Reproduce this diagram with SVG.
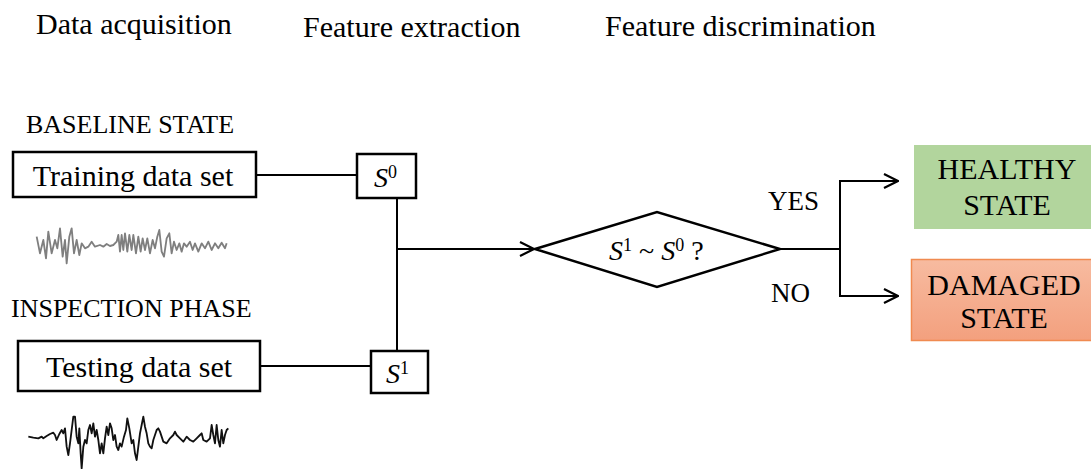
<svg xmlns="http://www.w3.org/2000/svg" width="1091" height="469" viewBox="0 0 1091 469">
  <style>
    text { font-family: "Liberation Serif", "Times New Roman", serif; fill: #000; }
    .title { font-size: 30px; }
    .phase { font-size: 26px; }
    .lbl { font-size: 30px; }
    .yn { font-size: 27px; }
    .sym { font-size: 28px; }
    .box { fill: #fff; stroke: #000; stroke-width: 2.5; }
    .wire { fill: none; stroke: #000; stroke-width: 2; }
    .wave { fill: none; stroke-width: 5.5; stroke-linejoin: round; }
  </style>
  <defs>
    <marker id="arrow" viewBox="0 0 16 16" refX="15" refY="8" markerWidth="16" markerHeight="16" markerUnits="userSpaceOnUse" orient="auto">
      <path d="M1,1 L15,8 L1,15" fill="none" stroke="#000" stroke-width="2.2"/>
    </marker>
    <linearGradient id="dmg" x1="0" y1="0" x2="0" y2="1">
      <stop offset="0" stop-color="#F7BBA0"/>
      <stop offset="1" stop-color="#F3A07E"/>
    </linearGradient>
  </defs>

  <!-- column headings -->
  <text class="title" x="36" y="34">Data acquisition</text>
  <text class="title" x="303" y="37">Feature extraction</text>
  <text class="title" x="605" y="36">Feature discrimination</text>

  <!-- connectors -->
  <g id="connectors">
    <line class="wire" x1="256" y1="175" x2="357" y2="175"/>
    <line class="wire" x1="260" y1="366" x2="371" y2="366"/>
    <line class="wire" x1="397" y1="198" x2="397" y2="351"/>
    <line class="wire" x1="397" y1="249" x2="534" y2="249" marker-end="url(#arrow)"/>
    <line class="wire" x1="780" y1="249" x2="840" y2="249" stroke-width="3"/>
    <polyline class="wire" points="898,181 840,181 840,296 898,296"/>
    <line class="wire" x1="840" y1="181" x2="898" y2="181" marker-end="url(#arrow)"/>
    <line class="wire" x1="840" y1="296" x2="898" y2="296" marker-end="url(#arrow)"/>
    <text class="yn" x="768" y="210">YES</text>
    <text class="yn" x="771" y="302">NO</text>
  </g>

  <!-- baseline branch -->
  <g id="baseline">
    <text class="phase" x="26" y="133">BASELINE STATE</text>
    <rect class="box" x="13" y="152" width="243" height="45"/>
    <text class="lbl" x="133" y="186" text-anchor="middle">Training data set</text>
    <g transform="translate(20 220) scale(0.3333)">
      <polyline class="wave" stroke="#7f7f7f" points="50,50 60,100 70,60 78,115 85,35 95,100 105,60 112,85 120,25 128,110 135,60 140,130 148,50 155,25 162,100 170,60 178,105 185,70 195,85 205,80 215,65 225,80 240,75 250,80 260,72 270,78 280,75 290,65 295,45 300,95 305,45 310,90 315,40 322,95 328,45 335,90 340,45 348,100 355,50 362,95 368,55 375,90 382,55 390,100 398,60 405,85 412,50 418,30 425,95 432,110 440,55 448,40 455,100 462,65 470,90 478,70 485,95 492,70 500,80 510,65 518,90 525,70 535,95 545,70 555,85 565,65 575,90 585,70 595,85 605,68 615,85 620,70"/>
    </g>
  </g>

  <!-- inspection branch -->
  <g id="inspection">
    <text class="phase" x="11" y="317">INSPECTION PHASE</text>
    <rect class="box" x="18" y="341" width="242" height="50"/>
    <text class="lbl" x="139" y="377" text-anchor="middle">Testing data set</text>
    <g transform="translate(20 410) scale(0.3333)">
      <polyline class="wave" stroke="#111" points="25,80 40,83 55,85 65,80 70,85 80,78 90,72 100,68 105,75 110,90 118,72 125,60 130,70 135,55 140,110 145,135 150,100 155,60 160,20 165,20 170,80 175,100 178,55 182,130 185,175 190,110 195,90 200,100 205,60 210,45 215,70 220,40 225,80 230,60 235,90 240,130 245,100 250,130 255,85 260,50 265,75 270,40 275,55 280,90 285,75 290,110 295,120 300,100 305,110 312,80 318,60 322,25 328,55 335,100 340,90 345,130 350,150 355,110 360,70 365,45 370,20 375,50 380,70 385,100 390,110 395,115 400,90 410,60 415,55 420,65 430,95 440,100 450,85 460,75 465,65 470,75 480,85 490,95 500,80 510,90 520,95 530,85 540,75 545,70 550,90 560,95 570,85 575,45 580,75 585,100 590,45 595,90 600,110 605,60 610,100 615,75 620,60 625,55"/>
    </g>
  </g>

  <!-- feature boxes -->
  <g id="s0">
    <rect class="box" x="357" y="154" width="59" height="44"/>
    <text class="sym" x="374" y="187"><tspan font-style="italic">S</tspan><tspan font-size="18" dy="-9">0</tspan></text>
  </g>
  <g id="s1">
    <rect class="box" x="371" y="351" width="57" height="42"/>
    <text class="sym" x="386" y="383"><tspan font-style="italic">S</tspan><tspan font-size="18" dy="-9">1</tspan></text>
  </g>

  <!-- decision -->
  <g id="decision">
    <polygon points="535,249 657,212 780,249 657,287" fill="#fff" stroke="#000" stroke-width="2.5"/>
    <text class="sym" x="609" y="260"><tspan font-style="italic">S</tspan><tspan font-size="18" dy="-9">1</tspan><tspan dy="9"> ~ </tspan><tspan font-style="italic">S</tspan><tspan font-size="18" dy="-9">0</tspan><tspan dy="9"> ?</tspan></text>
  </g>

  <!-- outcomes -->
  <g id="healthy">
    <rect x="914" y="145" width="177" height="84" fill="#B2D59D"/>
    <text class="lbl" x="1007" y="179" text-anchor="middle">HEALTHY</text>
    <text class="lbl" x="1007" y="215" text-anchor="middle">STATE</text>
  </g>
  <g id="damaged">
    <rect x="911.5" y="259.5" width="181" height="81" fill="url(#dmg)" stroke="#F08A50" stroke-width="1.5"/>
    <text class="lbl" x="1004" y="295" text-anchor="middle">DAMAGED</text>
    <text class="lbl" x="1004" y="328" text-anchor="middle">STATE</text>
  </g>
</svg>
